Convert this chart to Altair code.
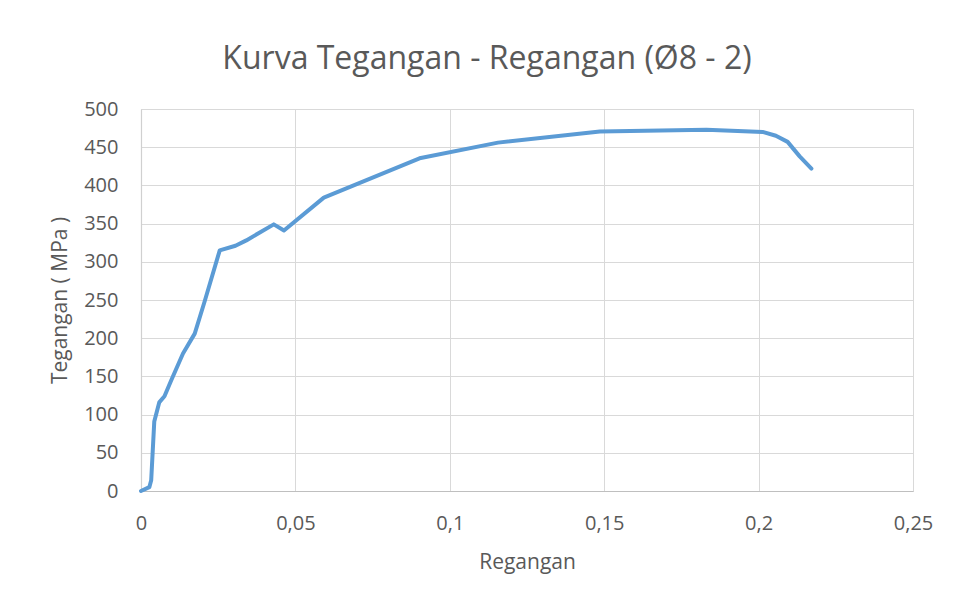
import altair as alt
import pandas as pd

# Values
regangan = [0, 0.0027, 0.0033, 0.0043, 0.0059, 0.0076, 0.0098, 0.0136, 0.0174,
            0.0206, 0.0255, 0.0306, 0.0341, 0.0430, 0.0463, 0.0592, 0.0902,
            0.1156, 0.1486, 0.1831, 0.2013, 0.2056, 0.2094, 0.2133, 0.2171]
tegangan = [0, 5, 14, 91, 116, 124, 145, 180, 206,
            248, 315, 321, 328, 349, 341, 384, 435.5,
            456, 470.5, 473, 470, 465, 457, 438, 422]
x_ticks = [0, 0.05, 0.1, 0.15, 0.2, 0.25]
y_ticks = [0, 50, 100, 150, 200, 250, 300, 350, 400, 450, 500]

df = pd.DataFrame({"Regangan": regangan, "Tegangan": tegangan, "order": list(range(len(regangan)))})

FONT = "Open Sans"
TXT = "#595959"

chart = alt.Chart(df).mark_line(
    color="#5b9bd5", strokeWidth=4, strokeCap="round", strokeJoin="round"
).encode(
    x=alt.X("Regangan:Q",
            scale=alt.Scale(domain=[0, 0.25], nice=False),
            axis=alt.Axis(values=x_ticks, title="Regangan",
                          labelExpr="replace(format(datum.value, '~g'), '.', ',')",
                          grid=True, gridColor="#d9d9d9", gridWidth=1,
                          domainColor="#bfbfbf", domainWidth=1.2,
                          ticks=False, tickSize=0, labelFlush=False, labelOverlap=False,
                          labelFont=FONT, labelFontSize=20, labelColor=TXT,
                          labelBaseline="alphabetic", labelPadding=38,
                          titleFont=FONT, titleFontSize=21, titleColor=TXT,
                          titleFontWeight="normal", titleBaseline="alphabetic",
                          titleX=386, titleY=77, titleAlign="center")),
    y=alt.Y("Tegangan:Q",
            scale=alt.Scale(domain=[0, 500], nice=False),
            axis=alt.Axis(values=y_ticks, title="Tegangan ( MPa )",
                          grid=True, gridColor="#d9d9d9", gridWidth=1,
                          domainColor="#d0d0d0", domainWidth=1.2,
                          ticks=False, tickSize=0, labelFlush=False, labelOverlap=False,
                          labelFont=FONT, labelFontSize=20, labelColor=TXT,
                          labelPadding=23,
                          titleFont=FONT, titleFontSize=21, titleColor=TXT,
                          titleFontWeight="normal", titleBaseline="alphabetic",
                          titleAngle=-90, titleX=-75, titleY=191, titleAlign="center")),
    order="order:Q",
).properties(
    width=772,
    height=382,
    title=alt.TitleParams("Kurva Tegangan - Regangan (Ø8 - 2)",
                          font=FONT, fontSize=32, fontWeight="normal", color=TXT,
                          anchor="middle", baseline="alphabetic", offset=39, dx=-40, dy=41),
    autosize=alt.AutoSizeParams(type="none"),
    padding={"left": 133, "top": 101, "right": 30, "bottom": 95},
).configure_view(stroke=None).configure(background="white")

chart.save("out.html", embed_options={"renderer": "svg", "actions": False})
